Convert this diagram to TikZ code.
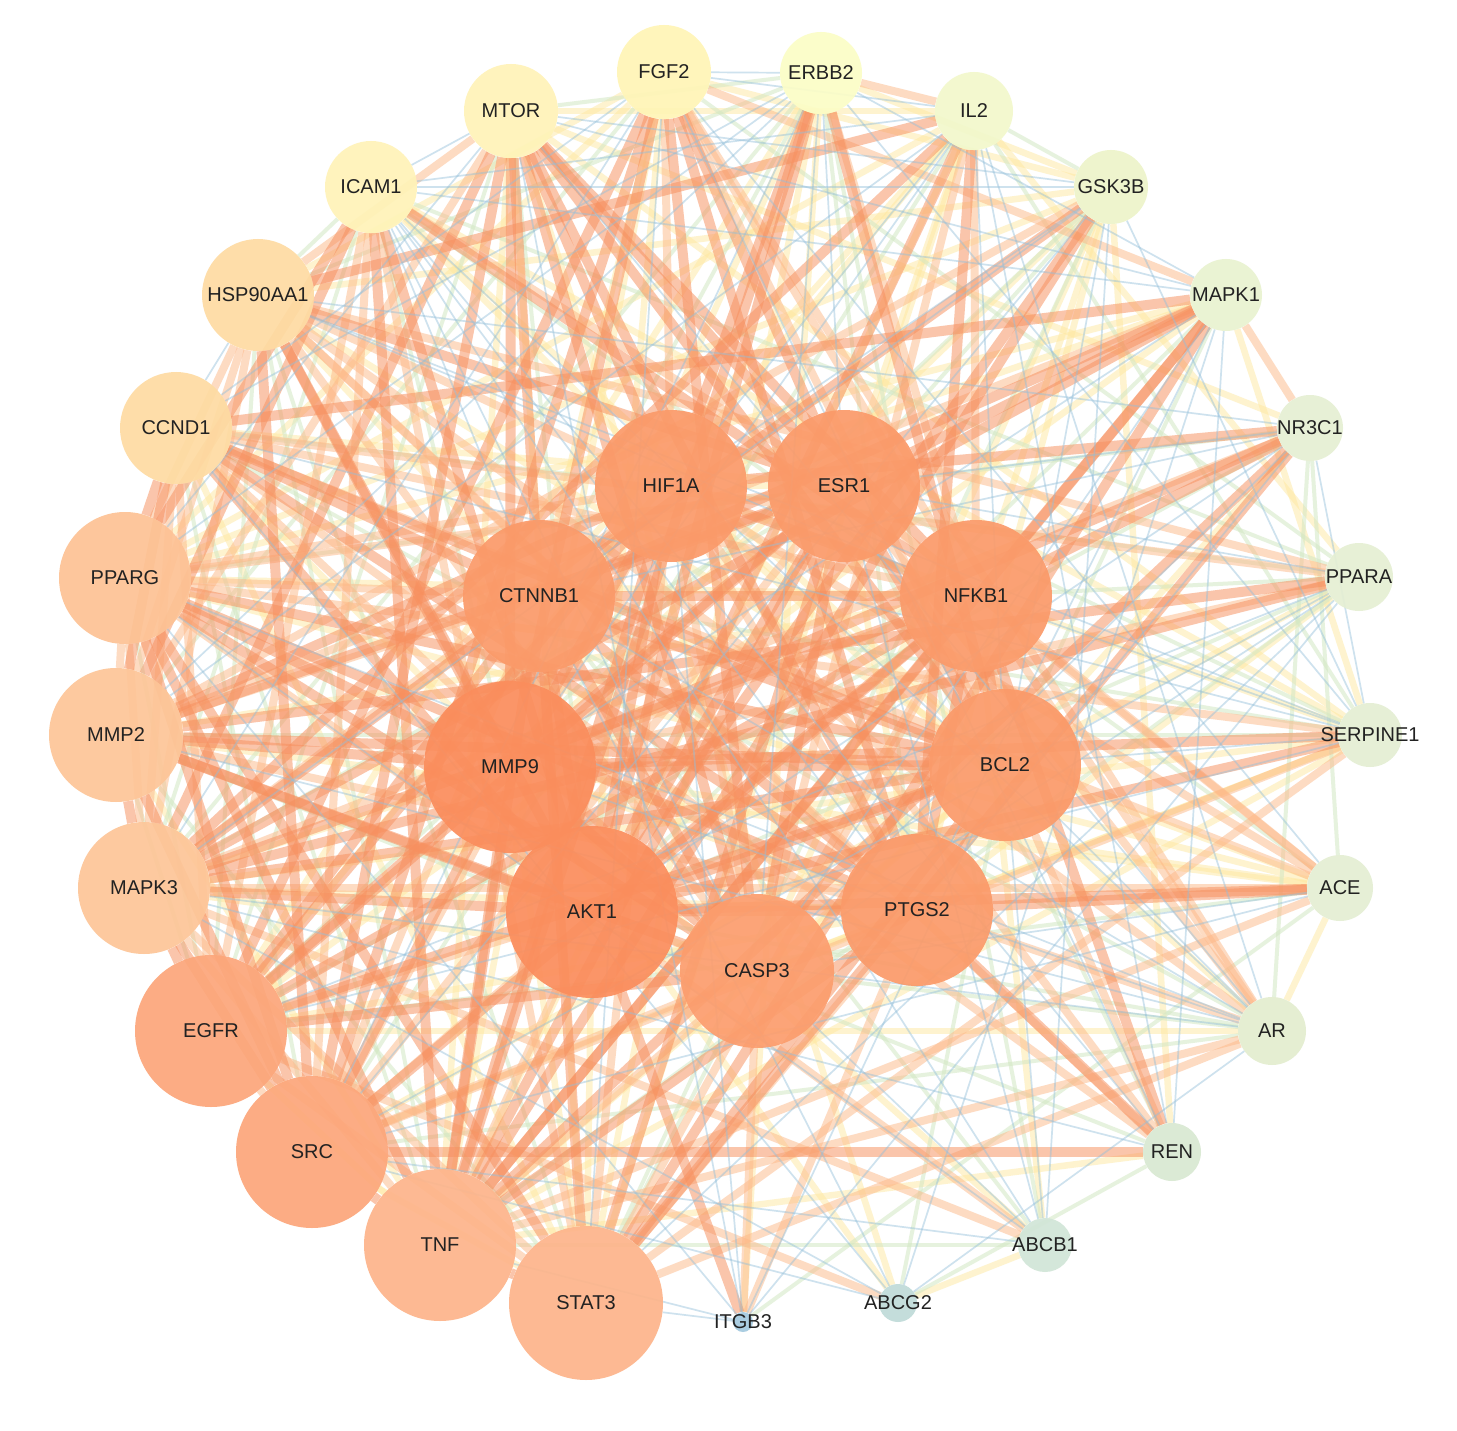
\documentclass[tikz,border=0pt]{standalone}
\usepackage{fontspec}
\setmainfont{Liberation Sans}
\pgfdeclarelayer{bg}
\pgfdeclarelayer{eblue}
\pgfdeclarelayer{egreen}
\pgfdeclarelayer{eyellow}
\pgfdeclarelayer{elorange}
\pgfdeclarelayer{eorange}
\pgfsetlayers{bg,eyellow,egreen,elorange,eorange,eblue,main}
\definecolor{labelc}{HTML}{222222}
\definecolor{eoc}{HTML}{F7905F}
\definecolor{eloc}{HTML}{FDB887}
\definecolor{eyc}{HTML}{FEE9A0}
\definecolor{egc}{HTML}{D3E8C4}
\definecolor{ebc}{HTML}{93BFDA}
\tikzset{
  gnode/.style={circle, draw=none, inner sep=0pt, fill opacity=0.92},
  glabel/.style={inner sep=0pt, font=\fontsize{20}{24}\selectfont, text=labelc},
  eorange/.style={line width=10pt, draw=eoc, draw opacity=0.52},
  elorange/.style={line width=8pt, draw=eloc, draw opacity=0.5},
  eyellow/.style={line width=6.5pt, draw=eyc, draw opacity=0.5},
  egreen/.style={line width=4pt, draw=egc, draw opacity=0.55},
  eblue/.style={line width=1.7pt, draw=ebc, draw opacity=0.45}
}
\def\nodedata{AKT1/592/912/86/FB8D5C,%
MMP9/510/767/86/FB8D5C,%
HIF1A/671/486/76/FB9A69,%
ESR1/844/486/76/FB9A69,%
CTNNB1/539/596/76/FB9A69,%
NFKB1/976/596/76/FB9A69,%
BCL2/1005/765/76/FB9A69,%
PTGS2/917/910/76/FB9A69,%
CASP3/757/971/77/FC9D6D,%
EGFR/211/1031/76/FCA67A,%
SRC/312/1152/76/FCA67A,%
TNF/440/1245/76/FDB48A,%
STAT3/586/1303/77/FDB48A,%
MAPK3/144/888/66/FDC597,%
MMP2/116/735/67/FDC597,%
PPARG/125/578/66/FDC294,%
CCND1/176/428/56/FEDBA2,%
HSP90AA1/258/295/56/FEDBA2,%
ICAM1/371/187/46/FFF3B8,%
MTOR/511/111/47/FFF3B8,%
FGF2/664/72/47/FFF5B6,%
ERBB2/821/73/41/FBFDC6,%
IL2/974/111/39/F2F8CB,%
GSK3B/1111/187/37/EDF4C9,%
MAPK1/1226/295/36/E9F2D0,%
NR3C1/1310/428/33/E5EFD3,%
PPARA/1359/577/34/E5EFD3,%
SERPINE1/1370/735/32/E4EED3,%
ACE/1340/888/33/E4EED3,%
AR/1272/1031/34/E3EDCF,%
REN/1172/1152/29/D9E9D2,%
ABCB1/1045/1245/27/D1E5D7,%
ABCG2/898/1303/19/BFDBD8,%
ITGB3/743/1322/10/A3C9DF}
\def\edgedata{AKT1/34,MMP9/33,HIF1A/30,ESR1/30,CTNNB1/30,NFKB1/30,BCL2/30,PTGS2/30,CASP3/30,%
EGFR/30,SRC/30,TNF/29,STAT3/29,MAPK3/26,MMP2/26,PPARG/26,CCND1/23,HSP90AA1/23,%
ICAM1/19,MTOR/19,FGF2/19,ERBB2/17,IL2/16,GSK3B/15,MAPK1/15,NR3C1/14,PPARA/14,%
SERPINE1/14,ACE/14,AR/14,REN/12,ABCB1/11,ABCG2/9,ITGB3/6}
\begin{document}
\begin{tikzpicture}[x=1pt,y=-1pt]
\useasboundingbox (0,0) rectangle (1457,1431);
\begin{pgfonlayer}{bg}
\fill[white] (0,0) rectangle (1457,1431);
\end{pgfonlayer}
% nodes (circles)
\foreach \n/\x/\y/\r/\c in \nodedata {
  \definecolor{tmpc}{HTML}{\c}
  \node[gnode, minimum size=2*\r pt, fill=tmpc] (\n) at (\x,\y) {};
}
% edges
\pgfmathsetseed{7}
\foreach \a/\ka [count=\i] in \edgedata {
  \foreach \b/\kb [count=\j] in \edgedata {
    \ifnum\j>\i
      \pgfmathsetmacro\pp{min(1,\ka*\kb/470)}
      \pgfmathsetmacro\ra{rnd}
      \pgfmathsetmacro\rb{rnd}
      \ifdim\ra pt<\pp pt
        \pgfmathsetmacro\w{(\ka+\kb)/68+(\rb-0.5)*0.7}
        \ifdim\w pt>0.86pt \def\es{eorange}\else
        \ifdim\w pt>0.7pt \def\es{elorange}\else
        \ifdim\w pt>0.57pt \def\es{eyellow}\else
        \ifdim\w pt>0.46pt \def\es{egreen}\else
        \def\es{eblue}\fi\fi\fi\fi
        \edef\doedge{\noexpand\begin{pgfonlayer}{\es}\noexpand\draw[\es] (\a) -- (\b);\noexpand\end{pgfonlayer}}
        \doedge
      \fi
    \fi
  }
}
% labels
\foreach \n/\x/\y/\r/\c in \nodedata {
  \node[glabel] (\n-l) at (\n.center) {\n};
}
\end{tikzpicture}
\end{document}
